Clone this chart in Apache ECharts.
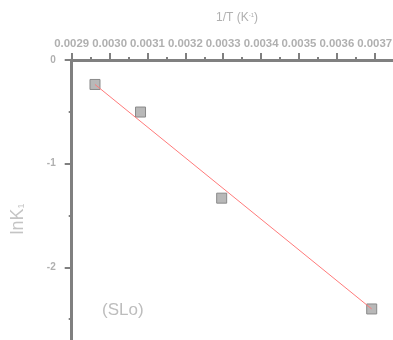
<!DOCTYPE html>
<html>
<head>
<meta charset="utf-8">
<script src="https://cdn.jsdelivr.net/npm/echarts@6/dist/echarts.min.js"></script>
<style>
  html, body { margin: 0; padding: 0; overflow: hidden; background: #fff; }
  body { width: 393px; height: 340px; }
  #main { width: 470px; height: 390px; }
</style>
</head>
<body>
<div id="main"></div>
<script>
// measured points: 1/T (K^-1) vs lnK1
var invT = [0.0029615, 0.0030817, 0.003296, 0.0036921];
var lnK1 = [-0.236, -0.502, -1.333, -2.402];
// fitted line end points
var fitX = [0.0029615, 0.0036921];
var fitY = [-0.236, -2.402];
var xTicks = ['0.0029', '0.0030', '0.0031', '0.0032', '0.0033', '0.0034', '0.0035', '0.0036', '0.0037'];

var chart = echarts.init(document.getElementById('main'), null, { renderer: 'canvas' });

var axisGrey = '#808080';
var textGrey = '#b0b0b0';

var option = {
  animation: false,
  grid: { left: 71.7, top: 60, width: 378.75, height: 310.95 },
  xAxis: {
    type: 'value',
    position: 'top',
    min: 0.0029,
    max: 0.0039,
    interval: 0.0001,
    axisLine: { onZero: false, lineStyle: { color: axisGrey, width: 3 } },
    axisTick: { length: 7, lineStyle: { color: axisGrey, width: 2 } },
    minorTick: { show: true, splitNumber: 2, length: 3, lineStyle: { color: axisGrey, width: 2 } },
    splitLine: { show: false },
    minorSplitLine: { show: false },
    axisLabel: {
      margin: 11,
      color: textGrey,
      fontFamily: 'Arial, "Liberation Sans"',
      fontWeight: 'bold',
      fontSize: 11.4,
      formatter: function (v) {
        var s = v.toFixed(4);
        return xTicks.indexOf(s) >= 0 ? s : '';
      }
    }
  },
  yAxis: {
    type: 'value',
    min: -3,
    max: 0,
    interval: 1,
    axisLine: { onZero: false, lineStyle: { color: axisGrey, width: 3 } },
    axisTick: { length: 7, lineStyle: { color: axisGrey, width: 2 } },
    minorTick: { show: true, splitNumber: 2, length: 3, lineStyle: { color: axisGrey, width: 2 } },
    splitLine: { show: false },
    axisLabel: {
      margin: 16,
      color: textGrey,
      fontFamily: 'Arial, "Liberation Sans"',
      fontWeight: 'bold',
      fontSize: 10
    }
  },
  graphic: [
    {
      type: 'text',
      left: 216, top: 12,
      style: {
        text: '1/T (K{sup|-1})',
        fill: textGrey,
        font: '12px Arial, "Liberation Sans"',
        rich: { sup: { fontSize: 6, verticalAlign: 'top', padding: [0, 0, 6, 0], fill: textGrey } }
      }
    },
    {
      type: 'text',
      x: 27, y: 219,
      rotation: Math.PI / 2,
      style: {
        text: 'lnK{sub|1}',
        fill: '#c4c4c4',
        font: '18px Arial, "Liberation Sans"',
        align: 'center',
        verticalAlign: 'bottom',
        rich: { sub: { fontSize: 9, fill: '#c4c4c4', padding: [8, 0, 0, 0] } }
      }
    },
    {
      type: 'text',
      left: 102, top: 302,
      style: {
        text: '(SLo)',
        fill: '#bdbdbd',
        font: '17px Arial, "Liberation Sans"'
      }
    }
  ],
  series: [
    {
      type: 'scatter',
      symbol: 'rect',
      symbolSize: 10,
      data: invT.map(function (x, i) { return [x, lnK1[i]]; }),
      itemStyle: { color: '#b8b8b8', borderColor: '#8a8a8a', borderWidth: 1, opacity: 1 },
      z: 2
    },
    {
      type: 'line',
      symbol: 'none',
      data: fitX.map(function (x, i) { return [x, fitY[i]]; }),
      lineStyle: { color: '#ff7a7a', width: 1 },
      z: 3
    }
  ]
};

chart.setOption(option);
</script>
</body>
</html>
